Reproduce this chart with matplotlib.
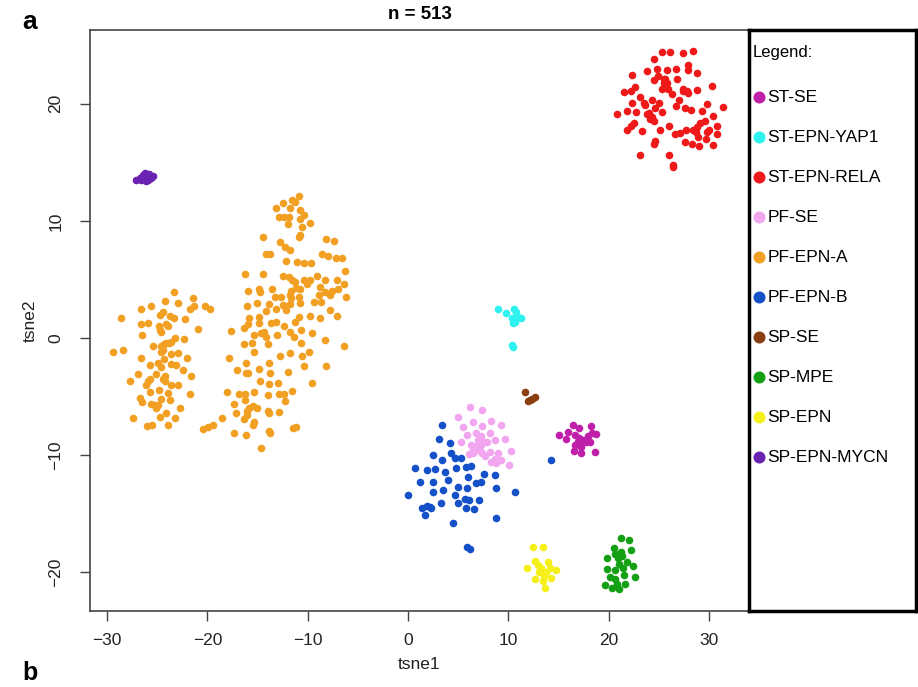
import matplotlib
matplotlib.use("Agg")
import matplotlib.pyplot as plt

plt.rcParams['font.family'] = ['Liberation Sans', 'DejaVu Sans']

groups = ["ST-SE", "ST-EPN-YAP1", "ST-EPN-RELA", "PF-SE", "PF-EPN-A",
          "PF-EPN-B", "SP-SE", "SP-MPE", "SP-EPN", "SP-EPN-MYCN"]
colors = ["#C01FAA", "#2EF2F0", "#EE1A1A", "#F2A6F0", "#F2A024",
          "#1450C8", "#8B3E10", "#14A014", "#F5F01A", "#6A22B0"]

st_se = [(16.5,-7.4),(17.1,-7.7),(18.2,-7.5),(15.1,-8.3),(16.0,-8.0),(15.8,-8.6),(16.7,-8.3),
         (17.1,-8.5),(17.5,-8.7),(17.9,-8.4),(18.3,-8.1),(18.7,-8.2),(17.0,-8.9),(16.7,-9.1),
         (17.7,-8.9),(18.1,-8.9),(17.3,-9.3),(16.6,-9.6),(17.3,-9.8),(18.6,-9.7),(17.1,-8.6)]

st_yap1 = [(9.0,2.5),(9.8,2.1),(10.6,2.5),(10.8,2.2),(11.3,1.7),(10.4,1.7),(10.7,1.4),
           (10.5,1.3),(11.0,1.8),(10.4,-0.6),(10.5,-0.8)]

st_rela = [(25.3,24.4),(26.1,24.4),(27.4,24.3),(28.4,24.5),(24.5,23.8),(27.9,23.3),(23.8,22.8),
           (24.8,23.0),(25.8,22.9),(26.7,23.0),(27.9,22.9),(28.8,22.6),(22.3,22.5),(24.9,22.4),
           (24.5,22.0),(25.5,22.1),(25.8,21.8),(25.6,21.6),(26.8,22.1),(25.3,21.3),(25.9,21.3),
           (22.6,21.4),(22.2,21.1),(21.5,21.0),(27.4,21.3),(27.8,21.1),(27.9,20.9),(28.8,21.2),
           (30.3,21.5),(26.3,20.8),(23.1,20.6),(22.3,20.1),(23.5,20.1),(24.3,20.3),(25.0,20.1),
           (27.0,20.3),(26.7,19.8),(27.6,19.6),(28.2,19.5),(29.3,19.4),(29.8,20.0),(31.4,19.7),
           (20.8,19.1),(21.8,19.4),(22.7,19.3),(23.6,19.9),(24.0,19.2),(24.6,19.6),(25.3,19.3),
           (24.1,18.7),(24.5,18.5),(30.4,19.0),(22.5,18.4),(22.2,18.1),(21.8,17.8),(23.3,17.7),
           (25.1,17.8),(26.0,18.1),(26.6,17.4),(27.1,17.5),(27.7,17.8),(28.4,17.8),(28.8,18.0),
           (29.1,18.4),(29.6,18.5),(28.7,17.6),(28.9,17.2),(29.8,17.6),(30.0,17.8),(30.8,18.1),
           (29.7,17.0),(30.8,17.4),(28.3,16.6),(27.6,16.7),(29.0,16.4),(30.4,16.5),(24.5,16.6),
           (24.6,16.8),(23.1,15.6),(26.0,15.6),(26.4,14.8),(26.4,14.6),(23.8,19.1),(24.3,18.9),
           (25.5,21.8),(25.6,22.1),(28.6,17.8),(27.4,21.1),(25.6,21.5)]

pf_se = [(6.2,-5.9),(7.4,-6.1),(5.0,-6.7),(6.5,-7.2),(7.4,-7.5),(8.3,-7.1),(9.3,-7.4),(5.5,-7.6),
         (5.9,-8.3),(6.8,-8.1),(7.3,-8.4),(8.2,-8.1),(7.0,-8.7),(7.6,-8.9),(8.7,-8.7),(9.7,-8.6),
         (5.3,-8.9),(6.3,-9.1),(6.8,-9.2),(7.9,-8.9),(6.7,-9.5),(7.2,-9.6),(6.4,-9.7),(6.1,-9.9),
         (7.4,-9.8),(8.2,-9.7),(9.0,-9.8),(10.3,-9.6),(7.7,-10.1),(8.7,-10.3),(9.3,-10.4),
         (8.3,-10.6),(8.8,-10.7),(10.1,-10.8),(7.0,-9.3),(7.3,-9.1),(6.5,-9.8)]

pf_epn_a = [
    # left group
    (-23.3,3.9),(-24.2,3.2),(-22.9,3.0),(-21.4,3.4),(-26.6,2.5),(-25.6,2.7),(-21.7,2.5),
    (-21.3,2.7),(-20.2,2.7),(-19.7,2.5),(-28.6,1.7),(-24.7,2.0),(-24.4,2.2),(-23.7,1.9),
    (-23.3,1.7),(-22.2,1.6),(-26.6,1.2),(-25.9,1.3),(-24.8,1.0),(-24.1,1.2),(-23.9,1.0),
    (-24.7,0.7),(-24.6,0.5),(-20.9,0.8),(-26.5,0.3),(-23.2,0.0),(-22.3,-0.1),(-23.6,-0.3),
    (-23.8,-0.4),(-25.4,-0.7),(-24.6,-0.7),(-24.3,-0.5),(-24.1,-0.4),(-29.4,-1.2),(-28.4,-1.0),
    (-24.6,-1.2),(-24.4,-1.0),(-22.9,-1.3),(-23.6,-1.4),(-26.6,-1.7),(-22.0,-1.7),(-24.3,-1.8),
    (-24.9,-2.1),(-25.7,-2.3),(-23.6,-2.2),(-23.1,-2.3),(-24.6,-2.5),(-22.4,-2.7),(-26.9,-3.1),
    (-25.1,-3.1),(-24.2,-3.2),(-21.6,-3.2),(-25.7,-3.5),(-25.9,-3.7),(-24.4,-3.5),(-24.2,-3.7),
    (-23.6,-4.0),(-22.9,-4.0),(-27.7,-3.7),(-26.1,-4.0),(-24.8,-4.4),(-23.9,-4.7),(-25.7,-4.6),
    (-21.7,-4.8),(-26.7,-5.1),(-24.6,-5.2),(-26.5,-5.5),(-23.7,-5.3),(-25.6,-5.6),(-25.2,-5.7),
    (-24.9,-5.7),(-25.1,-6.0),(-22.7,-6.0),(-24.1,-6.4),(-24.7,-6.7),(-27.4,-6.8),(-23.2,-6.8),
    (-26.0,-7.5),(-25.5,-7.4),(-23.9,-7.4),(-20.4,-7.8),(-19.9,-7.6),(-19.4,-7.4),
    # right group, upper part
    (-10.9,12.1),(-11.6,11.8),(-11.3,11.6),(-12.5,11.5),(-13.2,11.1),(-11.8,11.1),(-10.8,10.9),
    (-10.4,10.5),(-12.9,10.3),(-12.4,10.3),(-11.9,10.3),(-10.8,10.2),(-12.0,9.7),(-10.6,9.5),
    (-9.8,9.8),(-14.5,8.6),(-10.8,8.8),(-10.9,8.6),(-8.2,8.5),(-7.4,8.3),(-12.8,8.2),
    (-12.3,7.8),(-11.8,7.5),(-14.2,7.2),(-13.8,7.2),(-8.6,7.2),(-8.0,7.0),(-7.2,6.8),
    (-6.6,6.8),(-12.2,6.6),(-11.1,6.5),(-10.4,6.4),(-9.7,6.4),(-16.2,5.5),(-14.5,5.5),
    (-6.3,5.7),(-12.5,5.3),(-11.9,5.2),(-11.6,5.0),(-11.3,4.8),(-10.4,5.0),(-9.8,5.0),
    (-9.1,5.3),(-8.3,5.0),(-7.1,5.0),(-6.4,4.6),(-10.1,4.6),(-8.8,4.4),(-14.9,4.2),
    (-13.6,4.2),(-15.9,4.0),(-11.7,4.0),(-11.2,4.3),(-10.8,4.2),(-7.6,4.0),(-7.0,4.2),
    (-14.8,3.9),(-11.8,3.7),(-13.3,3.5),(-12.7,3.5),(-11.7,3.4),(-10.9,3.5),(-8.9,3.7),
    (-8.3,3.9),(-6.2,3.5),(-7.8,3.7),
    # right group, lower part
    (-16.0,2.7),(-15.1,3.0),(-13.9,2.9),(-12.5,2.8),(-11.8,2.9),(-10.8,3.0),(-9.4,3.1),
    (-8.7,3.1),(-14.2,2.3),(-13.2,2.5),(-12.2,2.4),(-7.8,2.4),(-7.1,1.9),(-9.8,1.9),
    (-8.8,1.7),(-10.9,1.8),(-11.3,1.4),(-14.9,1.8),(-15.8,1.7),(-15.9,1.2),(-16.3,0.9),
    (-14.9,1.3),(-13.7,1.3),(-13.2,1.4),(-12.4,1.0),(-17.6,0.6),(-11.8,0.5),(-10.7,0.7),
    (-9.6,0.4),(-15.3,0.3),(-14.7,0.4),(-14.4,0.5),(-14.2,0.1),(-13.1,0.3),(-11.4,0.1),
    (-15.5,-0.4),(-16.3,-0.5),(-14.0,-0.5),(-8.3,-0.2),(-6.4,-0.7),(-10.7,-0.4),(-9.9,-1.2),
    (-15.3,-1.2),(-12.8,-1.5),(-11.8,-1.3),(-10.6,-1.5),(-17.8,-1.7),(-16.1,-2.1),(-13.9,-2.1),
    (-10.4,-2.4),(-8.2,-2.4),(-17.0,-2.7),(-16.1,-3.0),(-15.9,-3.0),(-14.9,-2.6),(-13.8,-3.0),
    (-12.0,-2.9),(-14.8,-3.7),(-13.9,-3.9),(-13.0,-3.8),(-9.6,-3.8),(-18.0,-4.6),(-16.8,-4.8),
    (-16.2,-4.8),(-15.3,-4.6),(-14.0,-4.9),(-12.9,-4.8),(-12.4,-4.8),(-11.6,-4.5),(-16.2,-5.3),
    (-17.3,-5.6),(-12.3,-5.4),(-15.4,-5.8),(-15.1,-6.0),(-15.8,-6.0),(-17.1,-6.4),(-16.0,-6.2),
    (-14.0,-6.2),(-13.9,-6.4),(-12.9,-6.3),(-16.0,-6.6),(-16.3,-6.9),(-18.5,-6.8),(-15.3,-7.2),
    (-15.4,-7.4),(-11.5,-7.7),(-11.2,-7.6),(-13.9,-7.9),(-13.8,-8.1),(-17.3,-8.1),(-16.1,-8.3),
    (-14.7,-9.4)]

pf_epn_b = [(3.4,-7.4),(3.1,-8.6),(4.2,-9.0),(4.3,-9.8),(4.7,-10.2),(5.3,-10.2),(2.5,-10.0),
            (3.4,-10.4),(0.7,-11.1),(1.9,-11.3),(2.7,-11.2),(3.7,-11.4),(4.8,-11.1),(5.8,-11.0),
            (6.3,-10.9),(7.6,-11.6),(8.7,-11.7),(1.2,-12.3),(2.5,-12.3),(4.0,-12.1),(6.0,-11.9),
            (6.8,-12.4),(7.3,-12.3),(5.0,-12.7),(5.9,-12.8),(8.8,-12.8),(0.0,-13.4),(2.5,-13.1),
            (3.5,-13.0),(4.7,-13.4),(5.7,-13.7),(6.1,-13.8),(7.1,-13.8),(10.7,-13.1),(1.4,-14.5),
            (1.9,-14.3),(2.2,-14.4),(2.3,-14.5),(3.3,-14.1),(5.0,-14.1),(5.8,-14.5),(6.6,-14.6),
            (1.7,-15.1),(4.5,-15.8),(8.8,-15.4),(5.9,-17.8),(6.2,-18.0),(14.3,-10.4)]

sp_se = [(11.7,-4.6),(12.2,-5.3),(12.4,-5.2),(12.7,-5.0),(12.0,-5.4)]

sp_mpe = [(21.2,-17.1),(22.0,-17.2),(20.5,-17.9),(22.2,-18.1),(20.6,-18.4),(21.2,-18.3),
          (19.8,-18.8),(20.9,-18.8),(21.3,-18.6),(21.8,-19.1),(21.0,-19.3),(21.4,-19.6),
          (22.4,-19.5),(19.8,-19.7),(20.6,-19.8),(20.1,-20.4),(21.5,-20.2),(22.6,-20.4),
          (20.6,-20.6),(19.6,-21.1),(20.8,-21.0),(21.6,-21.0),(21.0,-21.4),(20.3,-21.3)]

sp_epn = [(12.5,-17.8),(13.5,-17.8),(11.9,-19.6),(12.7,-19.0),(13.0,-19.4),(13.3,-19.6),
          (13.1,-20.0),(14.0,-19.1),(14.2,-19.6),(13.6,-20.3),(12.7,-20.6),(13.5,-20.7),
          (14.3,-20.5),(14.8,-19.8),(13.7,-21.3),(13.2,-19.8),(13.8,-20.0)]

sp_epn_mycn = [(-27.1,13.5),(-26.7,13.7),(-26.4,13.9),(-26.2,13.6),(-25.9,13.5),(-25.6,13.7),
               (-25.8,14.0),(-26.2,14.1),(-25.4,13.8),(-26.1,13.4),(-26.6,13.5)]

clusters = [st_se, st_yap1, st_rela, pf_se, pf_epn_a, pf_epn_b, sp_se, sp_mpe, sp_epn, sp_epn_mycn]
plot_order = [4, 2, 3, 5, 0, 1, 6, 7, 8, 9]

xticks = [-30, -20, -10, 0, 10, 20, 30]
yticks = [-20, -10, 0, 10, 20]

W, H = 918, 687
fig = plt.figure(figsize=(W/100, H/100), dpi=100)
fig.patch.set_facecolor('white')

ax = fig.add_axes([90/W, 1 - 611/H, (749 - 90)/W, (611 - 30)/H])
for i in plot_order:
    pts = clusters[i]
    ax.scatter([p[0] for p in pts], [p[1] for p in pts], s=30, c=colors[i],
               linewidths=0, zorder=3)

ax.set_xlim(-31.7, 34.0)
ax.set_ylim(-23.3, 26.3)
ax.set_xticks(xticks)
ax.set_yticks(yticks)
ax.set_xticklabels([str(t).replace('-', '\u2212') for t in xticks])
ax.set_yticklabels([str(t).replace('-', '\u2212') for t in yticks], rotation=90, va='center')
ax.tick_params(axis='both', direction='out', length=7, width=1.0, color='#444444',
               labelsize=12.5, labelcolor='#222222')
ax.tick_params(axis='x', pad=9)
ax.tick_params(axis='y', pad=12)
for sp in ax.spines.values():
    sp.set_color('#444444')
    sp.set_linewidth(1.2)
ax.set_xlabel('tsne1', fontsize=12.5, color='#222222', labelpad=6)
ax.set_ylabel('tsne2', fontsize=12.5, color='#222222', labelpad=8)
ax.set_title('n = 513', fontsize=13.5, fontweight='bold', pad=8)

# legend panel
lax = fig.add_axes([749/W, 1 - 611/H, (916 - 749)/W, (611 - 30)/H])
lax.set_xlim(0, 1)
lax.set_ylim(0, 1)
lax.set_xticks([])
lax.set_yticks([])
for sp in lax.spines.values():
    sp.set_color('black')
    sp.set_linewidth(2.5)
lax.text(0.02, 0.975, 'Legend:', fontsize=12, va='top', ha='left', transform=lax.transAxes)
for k, (g, c) in enumerate(zip(groups, colors)):
    yy = 1 - (67 + 40 * k) / (611 - 30)
    lax.scatter([0.062], [yy], s=75, c=c, linewidths=0, transform=lax.transAxes, clip_on=False)
    lax.text(0.11, yy, g, fontsize=12.5, va='center', ha='left', transform=lax.transAxes)

fig.text(22/W, 1 - 22/H, 'a', fontsize=19, fontweight='bold', va='center', ha='left')
fig.text(22/W, 2/H, 'b', fontsize=18, fontweight='bold', va='bottom', ha='left')

fig.savefig('out.png', dpi=100)
